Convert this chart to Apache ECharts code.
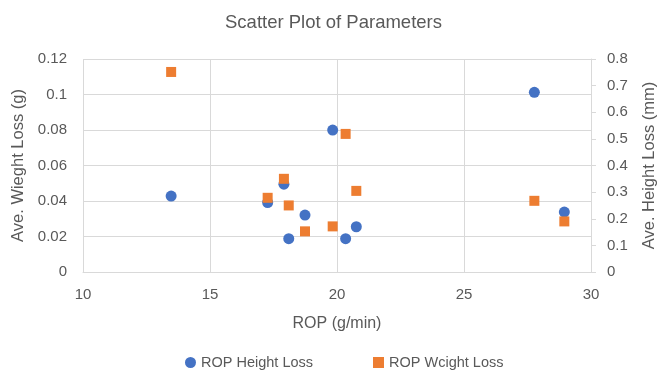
<!DOCTYPE html>
<html><head><meta charset="utf-8">
<script src="https://cdn.jsdelivr.net/npm/echarts@6/dist/echarts.min.js"></script>
<style>html,body{margin:0;padding:0;background:#fff}#c{width:667px;height:370px}</style>
</head><body><div id="c"></div>
<script>
const rop = [13.47, 17.91, 17.27, 18.10, 18.74, 19.83, 20.34, 20.76, 27.77, 28.95];
const heightLoss = [0.285, 0.330, 0.261, 0.125, 0.214, 0.533, 0.125, 0.170, 0.675, 0.225];
const weightLoss = [0.1127, 0.0525, 0.0418, 0.0375, 0.0229, 0.0257, 0.0778, 0.0457, 0.0401, 0.0285];

const FONT = 'Liberation Sans';
const GRAY = '#595959';
const GRID = '#d9d9d9';
const chart = echarts.init(document.getElementById('c'), null, {renderer: 'canvas'});
chart.setOption({
  animation: false,
  backgroundColor: '#fff',
  textStyle: {fontFamily: FONT},
  title: {text: 'Scatter Plot of Parameters', left: 'center', top: 8,
    textStyle: {fontFamily: FONT, fontSize: 18.5, fontWeight: 'normal', color: GRAY}},
  grid: {left: 83, right: 76, top: 59, bottom: 98},
  legend: {left: 180, top: 350, itemGap: 60, itemWidth: 11, itemHeight: 11,
    textStyle: {fontFamily: FONT, fontSize: 14.5, color: GRAY},
    data: [{name: 'ROP Height Loss', icon: 'circle'}, {name: 'ROP Wcight Loss', icon: 'rect'}]},
  xAxis: {type: 'value', min: 10, max: 30, interval: 5,
    name: 'ROP (g/min)', nameLocation: 'middle', nameGap: 44,
    nameTextStyle: {fontFamily: FONT, fontSize: 16, color: GRAY},
    axisLine: {show: true, lineStyle: {color: GRID}}, axisTick: {show: false},
    axisLabel: {fontFamily: FONT, fontSize: 15, color: GRAY, margin: 15},
    splitLine: {show: true, lineStyle: {color: GRID}}},
  yAxis: [
    {type: 'value', min: 0, max: 0.12, interval: 0.02, position: 'left',
     name: 'Ave. Wieght Loss (g)', nameLocation: 'middle', nameGap: 50, nameRotate: 90,
     nameTextStyle: {fontFamily: FONT, fontSize: 16.5, color: GRAY},
     axisLine: {show: false}, axisTick: {show: false},
     axisLabel: {fontFamily: FONT, fontSize: 15, color: GRAY, margin: 16},
     splitLine: {show: true, lineStyle: {color: GRID}}},
    {type: 'value', min: 0, max: 0.8, interval: 0.1, position: 'right',
     name: 'Ave. Height Loss (mm)', nameLocation: 'middle', nameGap: 50, nameRotate: 90,
     nameTextStyle: {fontFamily: FONT, fontSize: 16.5, color: GRAY},
     axisLine: {show: true, lineStyle: {color: GRID}},
     axisTick: {show: true, length: 5, lineStyle: {color: GRID}},
     axisLabel: {fontFamily: FONT, fontSize: 15, color: GRAY, margin: 16},
     splitLine: {show: false}}
  ],
  series: [
    {name: 'ROP Height Loss', type: 'scatter', yAxisIndex: 1, symbol: 'circle', symbolSize: 11,
     itemStyle: {color: '#4472C4', opacity: 1}, data: rop.map((x, i) => [x, heightLoss[i]])},
    {name: 'ROP Wcight Loss', type: 'scatter', yAxisIndex: 0, symbol: 'rect', symbolSize: 10,
     itemStyle: {color: '#ED7D31', opacity: 1}, data: rop.map((x, i) => [x, weightLoss[i]])}
  ]
});
</script></body></html>
